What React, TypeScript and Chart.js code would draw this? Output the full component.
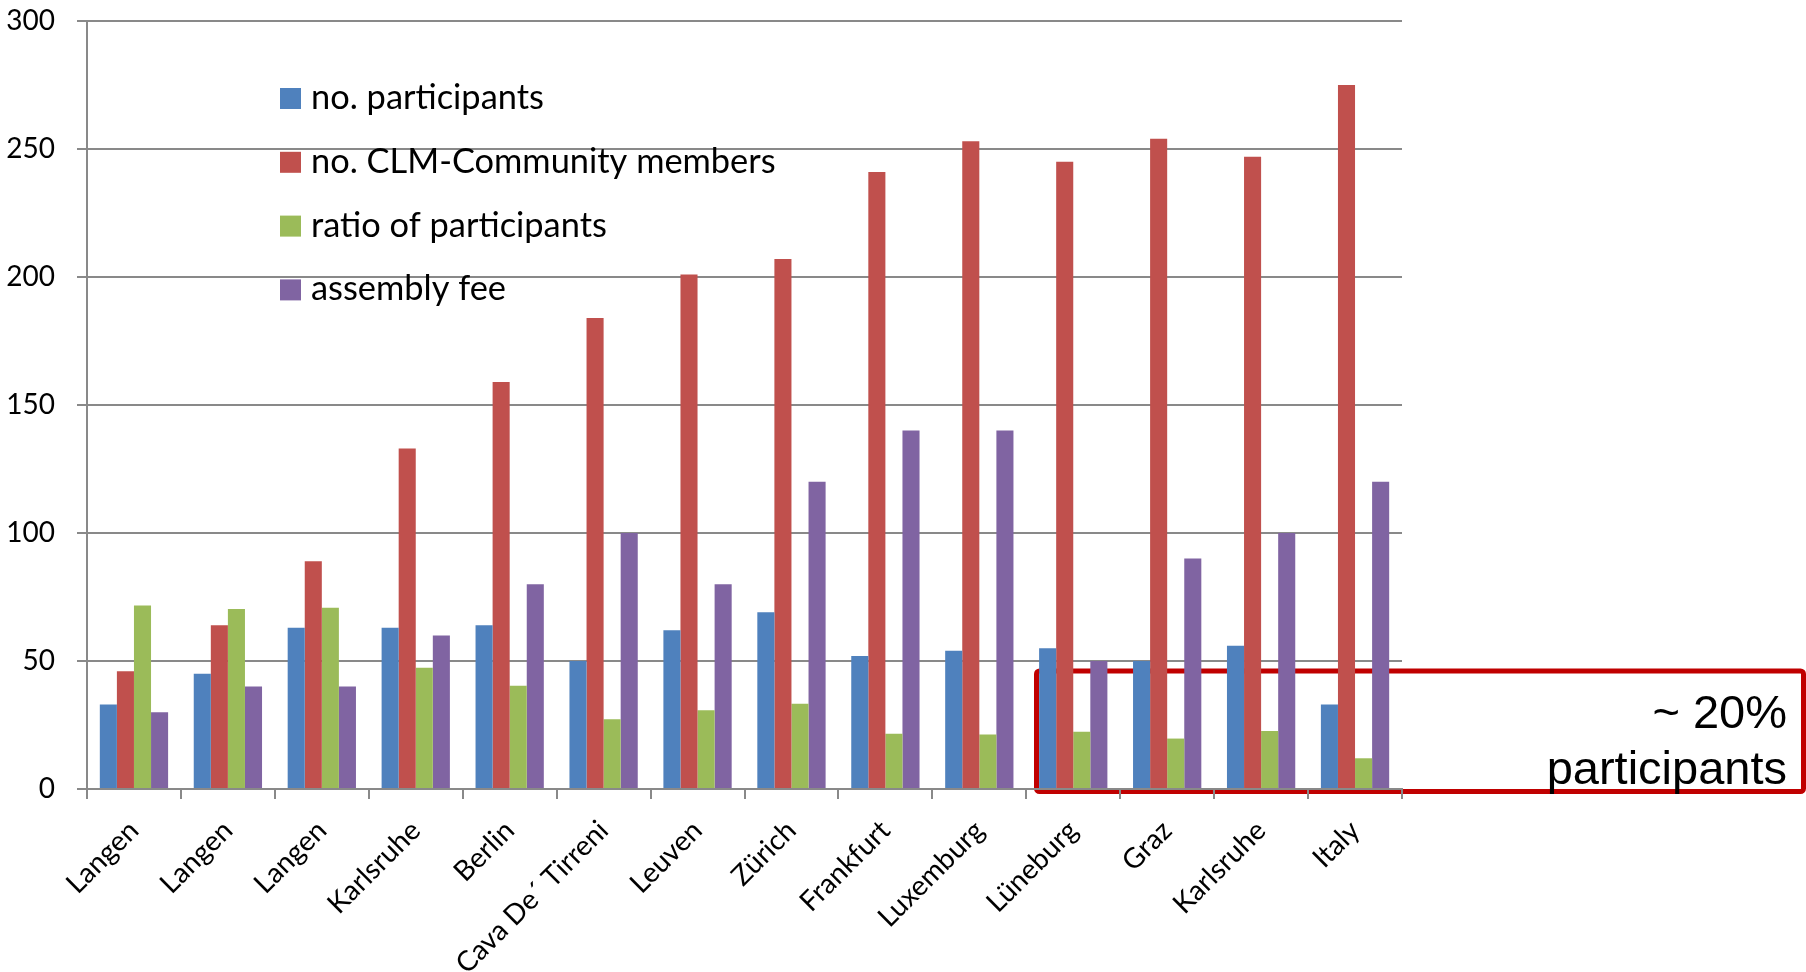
import React, { useEffect, useRef } from "react";
import { Chart, registerables } from "chart.js";

Chart.register(...registerables);

const categories = [
  "Langen",
  "Langen",
  "Langen",
  "Karlsruhe",
  "Berlin",
  "Cava De´ Tirreni",
  "Leuven",
  "Zürich",
  "Frankfurt",
  "Luxemburg",
  "Lüneburg",
  "Graz",
  "Karlsruhe",
  "Italy",
];
const participants = [33, 45, 63, 63, 64, 50, 62, 69, 52, 54, 55, 50, 56, 33];
const members = [46, 64, 89, 133, 159, 184, 201, 207, 241, 253, 245, 254, 247, 275];
const ratio = [71.7, 70.3, 70.8, 47.4, 40.3, 27.2, 30.8, 33.3, 21.6, 21.3, 22.4, 19.7, 22.7, 12.0];
const fee = [30, 40, 40, 60, 80, 100, 80, 120, 140, 140, 50, 90, 100, 120];
const seriesLabels = [
  "no. participants",
  "no. CLM-Community members",
  "ratio of participants",
  "assembly fee",
];
const seriesColors = ["#4F81BD", "#C0504D", "#9BBB59", "#8064A2"];
const yMin = 0;
const yMax = 300;
const yStep = 50;
const annotationLines = ["~ 20%", "participants"];

const GRID = "#898989";

const legendPlugin = {
  id: "insideLegend",
  afterDatasetsDraw(chart: any) {
    const ctx = chart.ctx;
    ctx.save();
    ctx.font = "34.4px Lato";
    ctx.textBaseline = "alphabetic";
    ctx.textAlign = "left";
    chart.data.datasets.forEach((ds: any, i: number) => {
      const y = 88 + i * 63.8;
      ctx.fillStyle = ds.backgroundColor;
      ctx.fillRect(280, y, 21, 21);
      ctx.fillStyle = "#000";
      ctx.fillText(ds.label, 311, y + 21);
    });
    ctx.restore();
  },
};

const annotationPlugin = {
  id: "boxAnnotation",
  beforeDraw(chart: any) {
    const ctx = chart.ctx;
    ctx.save();
    ctx.strokeStyle = "#C00000";
    ctx.lineWidth = 5;
    ctx.lineJoin = "round";
    ctx.beginPath();
    ctx.roundRect(1036.5, 671, 767, 120.5, 3);
    ctx.stroke();
    ctx.restore();
  },
  afterDraw(chart: any) {
    const ctx = chart.ctx;
    ctx.save();
    ctx.font = "47px 'Liberation Sans'";
    ctx.fillStyle = "#000";
    ctx.textAlign = "right";
    ctx.textBaseline = "alphabetic";
    ctx.fillText(annotationLines[0], 1787, 728);
    ctx.fillText(annotationLines[1], 1787, 784);
    ctx.restore();
  },
};

export default function App() {
  const ref = useRef<HTMLCanvasElement | null>(null);

  useEffect(() => {
    if (!ref.current) return;
    const seriesData = [participants, members, ratio, fee];
    const chart = new Chart(ref.current, {
      type: "bar",
      data: {
        labels: categories,
        datasets: seriesLabels.map((label, i) => ({
          label,
          data: seriesData[i],
          backgroundColor: seriesColors[i],
          borderWidth: 0,
          categoryPercentage: 0.727,
          barPercentage: 1.0,
        })),
      },
      options: {
        animation: false,
        responsive: false,
        devicePixelRatio: 1,
        layout: { padding: { top: 21, right: 404, left: 0, bottom: 0 } },
        plugins: {
          legend: { display: false },
          tooltip: { enabled: false },
          title: { display: false },
        },
        scales: {
          x: {
            offset: true,
            grid: {
              display: true,
              drawOnChartArea: false,
              drawTicks: true,
              tickLength: 10,
              offset: true,
              color: GRID,
              lineWidth: 2,
            },
            border: { display: true, color: GRID, width: 2 },
            ticks: {
              autoSkip: false,
              minRotation: 45,
              maxRotation: 45,
              color: "#000",
              padding: 15,
              font: { family: "Lato", size: 28 },
            },
            afterFit(scale: any) {
              scale.height = 183;
            },
          },
          y: {
            min: yMin,
            max: yMax,
            ticks: {
              stepSize: yStep,
              color: "#000",
              padding: 22,
              font: { family: "Lato", size: 28 },
            },
            grid: {
              color: GRID,
              lineWidth: 2,
              drawTicks: true,
              tickLength: 10,
            },
            border: { display: true, color: GRID, width: 2 },
            afterFit(scale: any) {
              scale.width = 87;
              scale.paddingTop = 0;
              scale.paddingBottom = 0;
            },
          },
        },
      },
      plugins: [annotationPlugin, legendPlugin],
    });
    return () => chart.destroy();
  }, []);

  return (
    <div style={{ position: "absolute", left: 0, top: 0, width: 1806, height: 972, background: "#fff" }}>
      <canvas ref={ref} width={1806} height={972} style={{ width: 1806, height: 972, display: "block" }} />
    </div>
  );
}
